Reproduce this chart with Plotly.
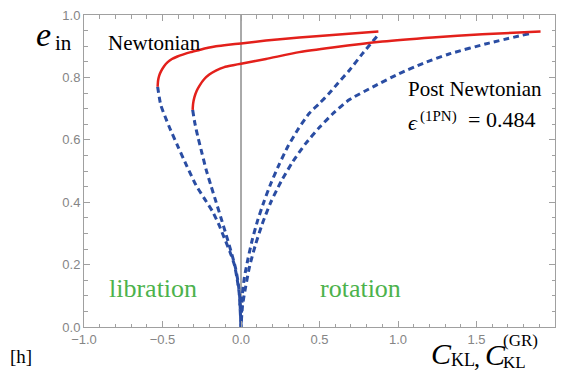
import plotly.graph_objects as go

# ---- data ----
newt_branch_x = [-0.531, -0.528, -0.521, -0.509, -0.490, -0.467, -0.440, -0.405, -0.371, -0.320,
                 -0.265, -0.210, -0.159, -0.080, 0.0, 0.159, 0.371, 0.583, 0.875]
newt_branch_e = [0.770, 0.790, 0.806, 0.820, 0.836, 0.849, 0.859, 0.867, 0.873, 0.881,
                 0.888, 0.895, 0.900, 0.905, 0.909, 0.918, 0.928, 0.936, 0.947]

pn_branch_x = [-0.308, -0.305, -0.297, -0.282, -0.265, -0.235, -0.202, -0.160, -0.106, -0.050,
               0.0, 0.159, 0.371, 0.583, 0.901, 1.219, 1.537, 1.908]
pn_branch_e = [0.696, 0.716, 0.736, 0.757, 0.773, 0.794, 0.809, 0.822, 0.833, 0.839,
               0.844, 0.859, 0.881, 0.896, 0.915, 0.928, 0.938, 0.947]

newt_lib_x = [-0.531, -0.511, -0.460, -0.403, -0.345, -0.286, -0.231, -0.181, -0.140, -0.106,
              -0.072, -0.043, -0.026, -0.012, 0.0]
newt_lib_e = [0.770, 0.712, 0.645, 0.580, 0.516, 0.454, 0.410, 0.370, 0.327, 0.285,
              0.243, 0.201, 0.158, 0.110, 0.0]

pn_lib_x = [-0.308, -0.294, -0.276, -0.250, -0.223, -0.192, -0.159, -0.127, -0.095, -0.064,
            -0.036, -0.020, -0.009, 0.0]
pn_lib_e = [0.696, 0.654, 0.612, 0.560, 0.506, 0.454, 0.401, 0.349, 0.296, 0.243,
            0.191, 0.148, 0.100, 0.0]

newt_rot_x = [0.865, 0.775, 0.689, 0.620, 0.562, 0.500, 0.435, 0.365, 0.300, 0.242, 0.190,
              0.145, 0.105, 0.072, 0.045, 0.022, 0.008, 0.0]
newt_rot_e = [0.931, 0.877, 0.822, 0.783, 0.749, 0.717, 0.685, 0.635, 0.580, 0.520, 0.460,
              0.400, 0.340, 0.280, 0.220, 0.160, 0.100, 0.0]

pn_rot_x = [1.834, 1.580, 1.325, 1.160, 1.007, 0.850, 0.689, 0.590, 0.500, 0.410, 0.330,
            0.255, 0.190, 0.135, 0.090, 0.055, 0.030, 0.010, 0.0]
pn_rot_e = [0.940, 0.910, 0.875, 0.845, 0.812, 0.772, 0.728, 0.686, 0.640, 0.587, 0.530,
            0.466, 0.400, 0.330, 0.260, 0.195, 0.130, 0.070, 0.0]

x_range = [-1.0, 2.0]
y_range = [0.0, 1.0]

RED = "#e3201b"
BLUE = "#2a4da3"
GREEN = "#4cb24c"
GRAY = "#858585"

fig = go.Figure()

for xs, es in [(newt_lib_x, newt_lib_e), (pn_lib_x, pn_lib_e),
               (newt_rot_x, newt_rot_e), (pn_rot_x, pn_rot_e)]:
    fig.add_trace(go.Scatter(x=xs, y=es, mode="lines",
                             line=dict(color=BLUE, width=3, dash="6px,4px", shape="spline", smoothing=0.6),
                             hoverinfo="skip", showlegend=False))

for xs, es in [(newt_branch_x, newt_branch_e), (pn_branch_x, pn_branch_e)]:
    fig.add_trace(go.Scatter(x=xs, y=es, mode="lines",
                             line=dict(color=RED, width=2.5, shape="spline", smoothing=0.6),
                             hoverinfo="skip", showlegend=False))

fig.add_shape(type="line", x0=0, x1=0, y0=0, y1=1, xref="x", yref="y",
              line=dict(color="#555555", width=1), layer="below")

axis_common = dict(showgrid=False, zeroline=False, showline=True, linecolor="#a0a0a0",
                   linewidth=1, mirror="ticks", ticks="inside", tickcolor="#a0a0a0",
                   ticklen=6, tickwidth=1, tickformat=".1f",
                   tickfont=dict(family="Liberation Sans, Arial", size=13, color=GRAY))

fig.update_xaxes(range=x_range, dtick=0.5, tick0=0,
                 minor=dict(dtick=0.1, ticks="inside", ticklen=3.5, tickcolor="#a0a0a0"),
                 **axis_common)
fig.update_yaxes(range=y_range, dtick=0.2, tick0=0,
                 minor=dict(dtick=0.05, ticks="inside", ticklen=3.5, tickcolor="#a0a0a0"),
                 **axis_common)

L, R, T, B = 84, 8, 10, 49
W, H = 564, 376
PW, PH = W - L - R, H - T - B

def px(xp):
    return (xp - L) / PW

def py(yp):
    return (H - B - yp) / PH

serif = "'Liberation Serif', 'Times New Roman', serif"

def ann(text, x, y, size, color="black", xanchor="left", yanchor="middle"):
    fig.add_annotation(text=text, x=px(x), y=py(y), xref="paper", yref="paper",
                       showarrow=False, xanchor=xanchor, yanchor=yanchor, align="left",
                       font=dict(family=serif, size=size, color=color))

ann("<i>e</i>", 34, 30, 34)
ann("in", 53, 38, 21)
ann("Newtonian", 106, 38, 21)
ann("Post Newtonian", 407, 85, 21)
ann("<i>ϵ</i>", 407, 119, 22)
ann("(1PN)", 419, 113, 15)
ann("= 0.484", 467, 116, 22)
ann("libration", 107, 288, 26, GREEN)
ann("rotation", 318, 288, 26, GREEN)
ann("[h]", 8, 357, 19)
ann("<i>C</i>", 430, 354, 30)
ann("KL", 450, 361, 18)
ann(",", 473, 358, 24)
ann("<i>C</i>", 484, 355, 30)
ann("(GR)<br>KL", 502, 352, 17)

fig.update_layout(width=W, height=H, margin=dict(l=L, r=R, t=T, b=B),
                  plot_bgcolor="white", paper_bgcolor="white")

fig.write_html("out.html")
